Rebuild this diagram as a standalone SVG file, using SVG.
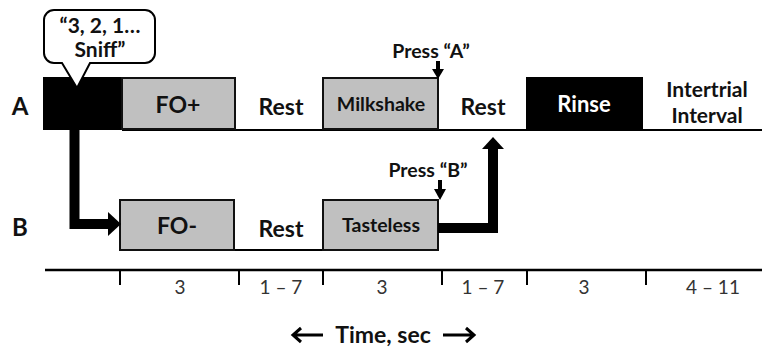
<svg xmlns="http://www.w3.org/2000/svg" width="762" height="350" viewBox="0 0 762 350">
<style>
  text { font-family: Lato, "Open Sans", "Liberation Sans", sans-serif; fill: #111; text-anchor: middle; }
  .b { font-weight: bold; }
  .lbl { font-size: 24px; font-weight: bold; }
  .mid { font-size: 23px; font-weight: bold; }
  .sm { font-size: 19.5px; font-weight: bold; }
  .num { font-size: 19px; fill: #333; }
  .gbox { fill: #c0c0c0; stroke: #111; stroke-width: 2; }
  .kbox { fill: #000; stroke: #000; stroke-width: 2; }
  .line { stroke: #000; stroke-width: 2; fill: none; }
  .thick { stroke: #000; stroke-width: 10; fill: none; }
</style>

<!-- Row labels -->
<text class="lbl" x="20" y="115">A</text>
<text class="lbl" x="20" y="236">B</text>

<!-- Row A -->
<g id="rowA-line"><line class="line" x1="122" y1="130" x2="762" y2="130"/></g>
<g id="sniff-block"><rect class="kbox" x="44" y="78" width="78" height="51"/></g>
<g id="fo-plus"><rect class="gbox" x="122" y="78" width="113" height="51"/><text class="mid" x="178" y="113">FO+</text></g>
<g id="rest-a1"><text class="mid" x="281" y="115">Rest</text></g>
<g id="milkshake"><rect class="gbox" x="323" y="78" width="115" height="51"/><text class="sm" x="381" y="111">Milkshake</text></g>
<g id="rest-a2"><text class="mid" x="483" y="115">Rest</text></g>
<g id="rinse"><rect class="kbox" x="527" y="78" width="115" height="51"/><text class="mid" x="584" y="112" style="fill:#fff;font-size:22px">Rinse</text></g>
<g id="iti"><text class="b" x="707" y="97" style="font-size:21px">Intertrial</text><text class="b" x="707" y="123" style="font-size:21px">Interval</text></g>

<!-- Speech bubble -->
<g id="bubble">
  <path d="M54,10 H145 A10,10 0 0 1 155,20 V53 A10,10 0 0 1 145,63 H90 L77,88 L62,63 H54 A10,10 0 0 1 44,53 V20 A10,10 0 0 1 54,10 Z" fill="#fff" stroke="#000" stroke-width="2"/>
  <text class="b" x="100" y="33" style="font-size:21px">“3, 2, 1…</text>
  <text class="b" x="100" y="57" style="font-size:21px">Sniff”</text>
</g>

<!-- Row B -->
<g id="rowB-line"><line class="line" x1="234" y1="250" x2="323" y2="250"/></g>
<g id="fo-minus"><rect class="gbox" x="120" y="200" width="114" height="50"/><text class="mid" x="177" y="234">FO-</text></g>
<g id="rest-b"><text class="mid" x="281" y="237">Rest</text></g>
<g id="tasteless"><rect class="gbox" x="323" y="200" width="115" height="50"/><text class="sm" x="381" y="232">Tasteless</text></g>

<!-- Press labels -->
<g id="press-a"><text class="sm" x="431" y="58">Press “A”</text></g>
<g id="press-b"><text class="sm" x="428" y="177">Press “B”</text></g>

<!-- Connectors -->
<g id="connectors">
  <path class="thick" d="M74.5,129 V224 H110"/>
  <polygon points="108,212 121,224 108,236" fill="#000"/>
  <path class="thick" d="M438,228 H493 V146"/>
  <polygon points="482,149 493,137 504,149" fill="#000"/>
  <line x1="438" y1="61" x2="438" y2="71" stroke="#000" stroke-width="4"/>
  <polygon points="432,69 444,69 438,79" fill="#000"/>
  <line x1="440" y1="180" x2="440" y2="191" stroke="#000" stroke-width="4"/>
  <polygon points="434,189 446,189 440,200" fill="#000"/>
</g>

<!-- Timeline -->
<g id="timeline">
  <line x1="45" y1="270" x2="762" y2="270" stroke="#000" stroke-width="2.5"/>
  <g stroke="#000" stroke-width="2">
    <line x1="120" y1="270" x2="120" y2="285"/>
    <line x1="239" y1="270" x2="239" y2="285"/>
    <line x1="323" y1="270" x2="323" y2="285"/>
    <line x1="442" y1="270" x2="442" y2="285"/>
    <line x1="527" y1="270" x2="527" y2="285"/>
    <line x1="646" y1="270" x2="646" y2="285"/>
  </g>
  <text class="num" x="180" y="294">3</text>
  <text class="num" x="281" y="294">1 – 7</text>
  <text class="num" x="382" y="294">3</text>
  <text class="num" x="483" y="294">1 – 7</text>
  <text class="num" x="584" y="294">3</text>
  <text class="num" x="713" y="294">4 – 11</text>
</g>

<g id="time-axis">
  <text class="mid" x="383" y="343">Time, sec</text>
  <path d="M293,335 H323 M301,328 L293,335 L301,342" stroke="#000" stroke-width="3" fill="none"/>
  <path d="M443,335 H474 M466,328 L474,335 L466,342" stroke="#000" stroke-width="3" fill="none"/>
</g>
</svg>
